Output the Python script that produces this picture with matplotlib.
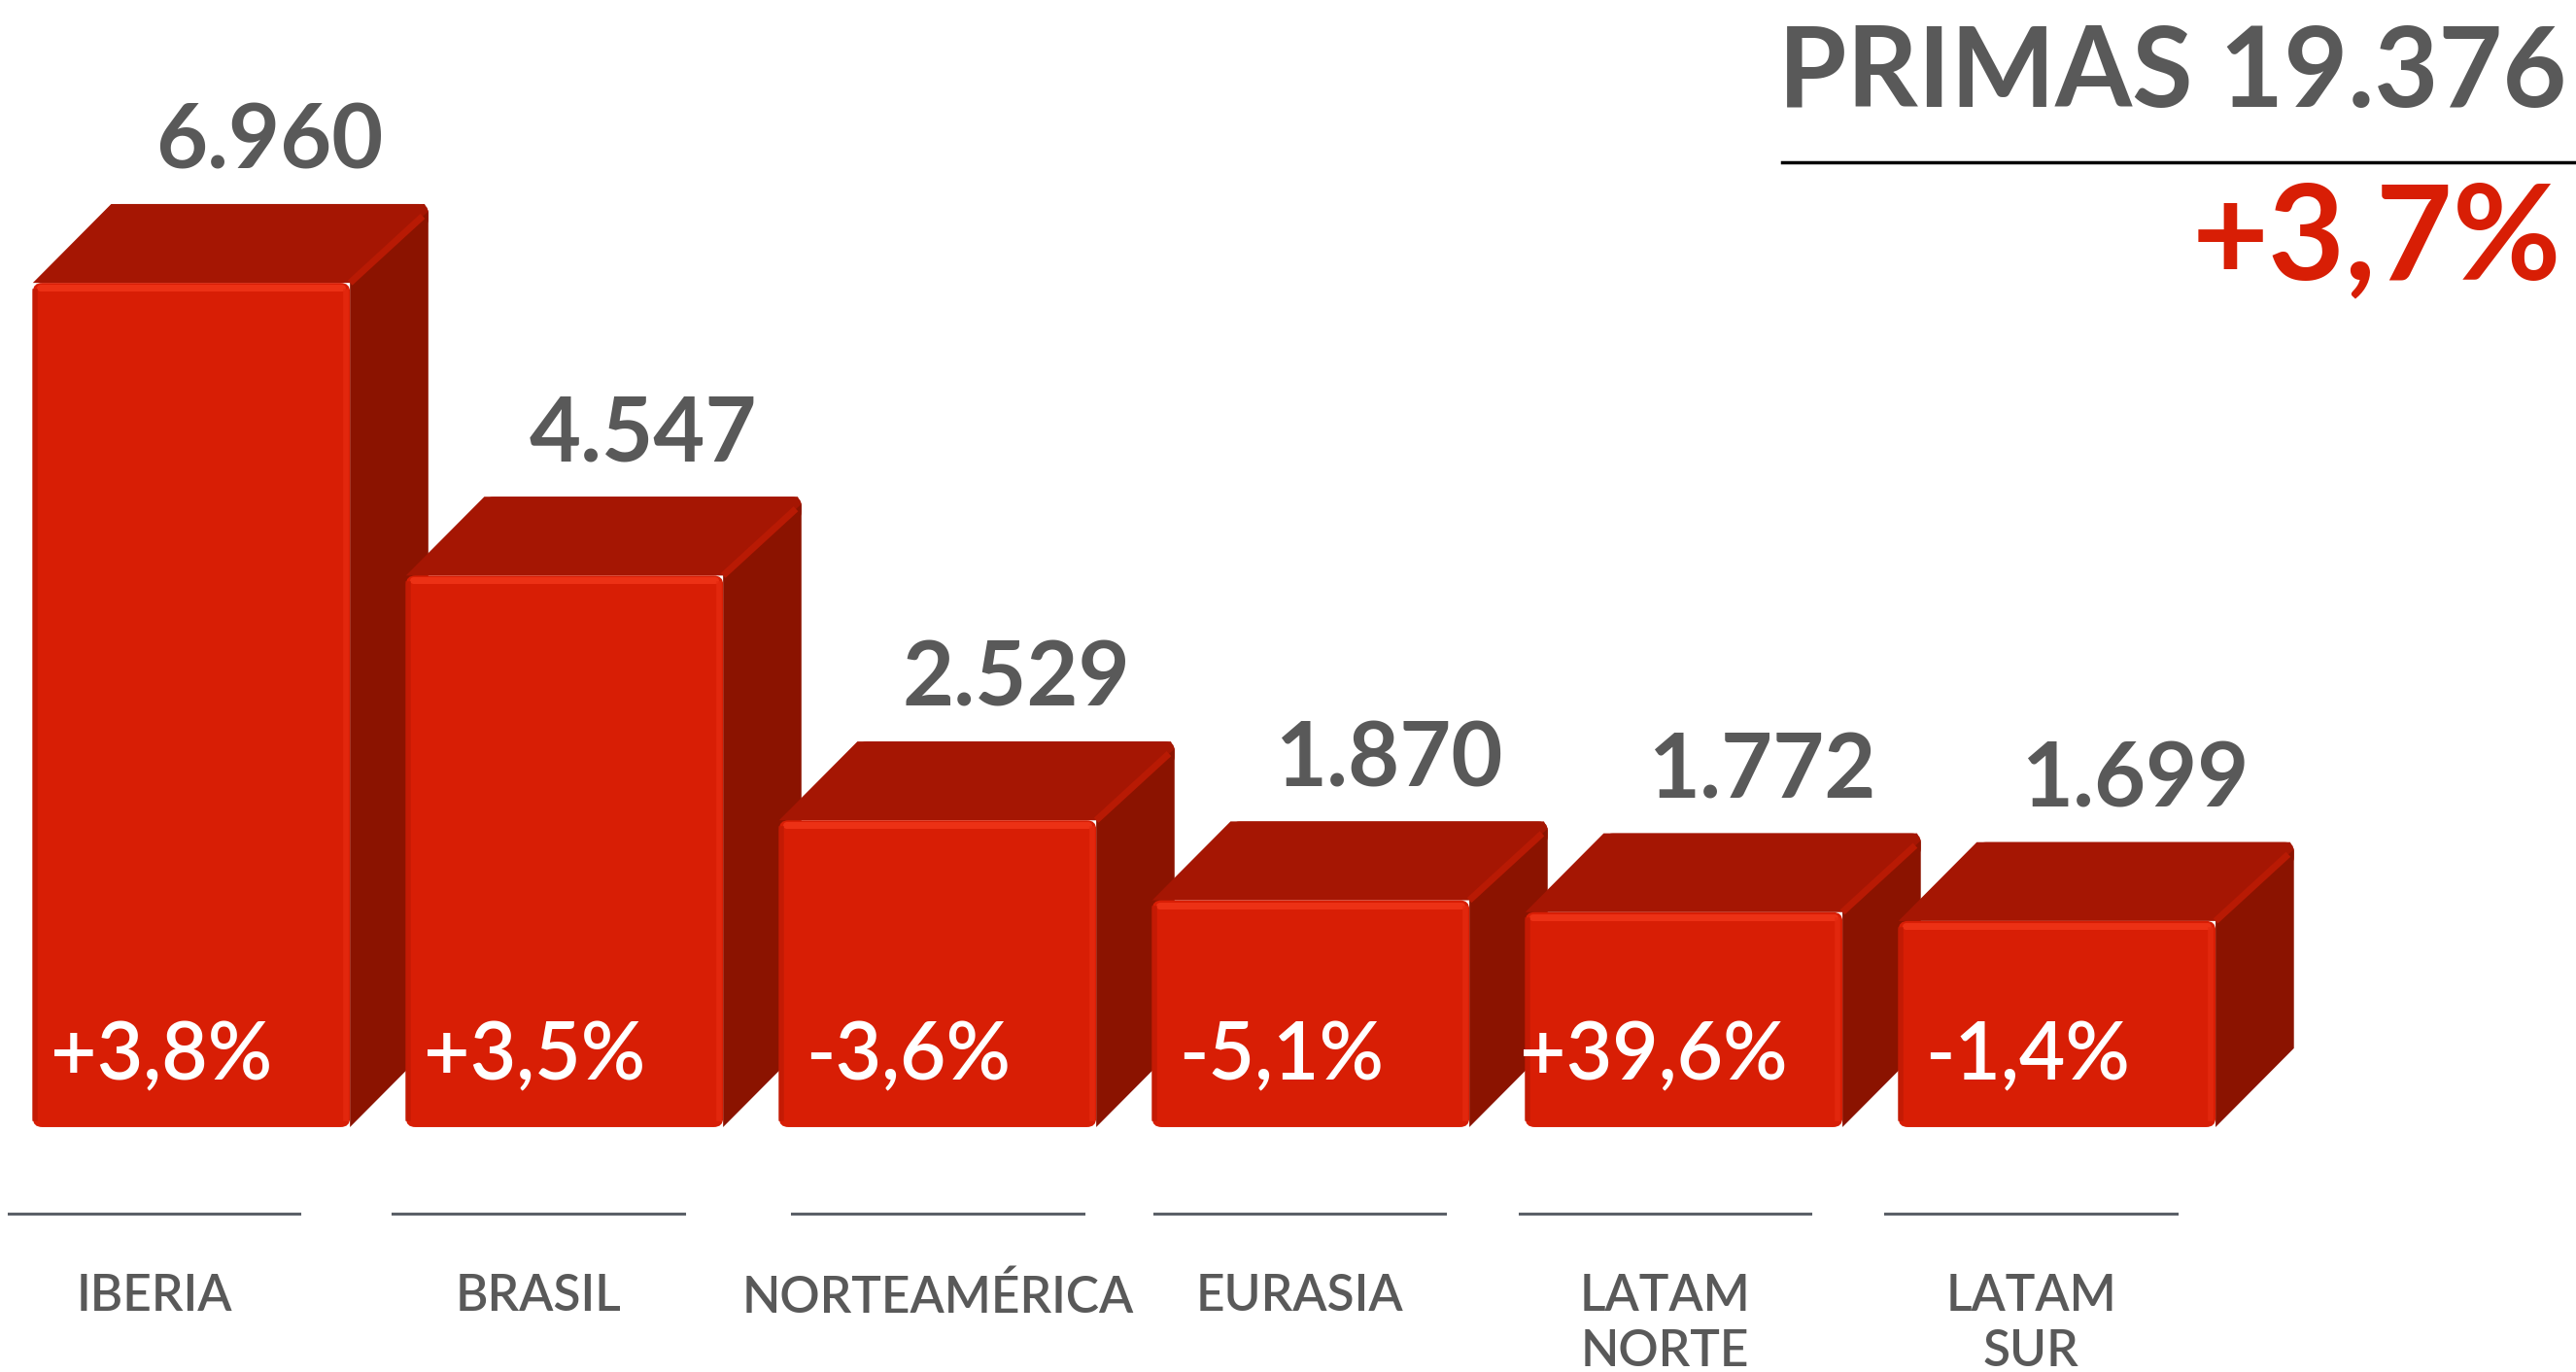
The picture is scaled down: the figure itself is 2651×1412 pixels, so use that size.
import matplotlib.pyplot as plt
from matplotlib.patches import FancyBboxPatch, Polygon

# Datos
categorias = ['IBERIA', 'BRASIL', 'NORTEAMÉRICA', 'EURASIA', 'LATAM\nNORTE', 'LATAM\nSUR']
primas = [6960, 4547, 2529, 1870, 1772, 1699]
variacion = [3.8, 3.5, -3.6, -5.1, 39.6, -1.4]
total_primas = 19376
total_variacion = 3.7

# Colores
rojo = '#d81e05'
rojo_top = '#a51603'
rojo_lado = '#8b1300'
rojo_luz = '#f2361a'
gris = '#595959'

plt.rcParams['font.family'] = ['Lato', 'DejaVu Sans']

fig = plt.figure(figsize=(26.51, 14.12), dpi=100)
ax = fig.add_axes([0, 0, 1, 1])
ax.set_xlim(-0.513, 6.391)
ax.set_ylim(-2019, 9292)
ax.axis('off')

w = 0.85          # ancho frontal
dx = 0.21         # profundidad en x
dy = 650          # profundidad en y
r = 0.025         # radio de esquinas
asp = 75 / r

# posiciones de las etiquetas de categoría (ligeramente desplazadas)
pos_cat = [-0.10, 0.93, 2.00, 2.97, 3.95, 4.93]


def fmt_miles(v):
    return f'{v:,}'.replace(',', '.')


def fmt_pct(v):
    return f'{v:+.1f}%'.replace('.', ',')


for i, (val, var) in enumerate(zip(primas, variacion)):
    x0 = i - w / 2
    x1 = i + w / 2
    # cara superior
    ax.add_patch(FancyBboxPatch((x0 + dx, val + dy - 200), w, 200,
                                boxstyle=f'round,pad=0,rounding_size={r}',
                                mutation_aspect=asp, facecolor=rojo_top,
                                edgecolor='none', zorder=1.9))
    ax.add_patch(Polygon([(x0, val), (x0 + dx, val + dy), (x1 + dx - 0.01, val + dy),
                          (x1 + dx, val + dy - 60), (x1, val)],
                         closed=True, facecolor=rojo_top, edgecolor='none', zorder=2))
    # cara lateral
    ax.add_patch(Polygon([(x1, 0), (x1, val), (x1 + dx, val + dy - 60), (x1 + dx, dy)],
                         closed=True, facecolor=rojo_lado, edgecolor='none', zorder=2))
    # arista diagonal con brillo
    ax.plot([x1, x1 + dx - 0.015], [val, val + dy - 100], color='#b81a04', lw=5,
            zorder=2.5, solid_capstyle='butt')
    # cara frontal
    ax.add_patch(FancyBboxPatch((x0, 0), w, val,
                                boxstyle=f'round,pad=0,rounding_size={r}',
                                mutation_aspect=asp, facecolor=rojo,
                                edgecolor='none', zorder=3))
    # brillos en los bordes
    ax.plot([x0 + 0.02, x1 - 0.02], [val - 40, val - 40], color=rojo_luz, lw=5,
            alpha=0.8, zorder=3.5, solid_capstyle='round')
    ax.plot([x1 - 0.012, x1 - 0.012], [70, val - 70], color='#e52a10', lw=4,
            alpha=0.8, zorder=3.5)
    ax.plot([x0 + 0.006, x0 + 0.006], [70, val - 70], color='#c01a04', lw=4,
            alpha=0.8, zorder=3.5)

    # valor encima
    ax.text(i + dx, val + dy + 290, fmt_miles(val), ha='center', va='baseline',
            fontsize=66, fontweight='bold', color=gris, zorder=5)
    # variación dentro
    ax.text(i - 0.08, 385, fmt_pct(var), ha='center', va='baseline',
            fontsize=59, fontweight='semibold', color='white', zorder=5)

    # línea y etiqueta de categoría
    xc = pos_cat[i]
    ax.plot([xc - 0.39, xc + 0.39], [-713, -713], color='#5b6068', lw=2.2, zorder=2)
    ax.text(xc, -1210, categorias[i], ha='center', va='top', fontsize=37,
            fontweight='semibold', color=gris, linespacing=1.25, zorder=5)

# Título / total
fig.text(0.9965, 1 - 110 / 1412, f'PRIMAS {fmt_miles(total_primas)}', ha='right',
         va='baseline', fontsize=82, fontweight='bold', color=gris)
fig.add_artist(plt.Line2D([0.692, 1.0], [1 - 167 / 1412, 1 - 167 / 1412],
                          color='black', lw=2.5, transform=fig.transFigure))
fig.text(0.9945, 1 - 287 / 1412, fmt_pct(total_variacion), ha='right',
         va='baseline', fontsize=98, fontweight='bold', color=rojo)

fig.savefig('out.png', dpi=100, facecolor='white')
